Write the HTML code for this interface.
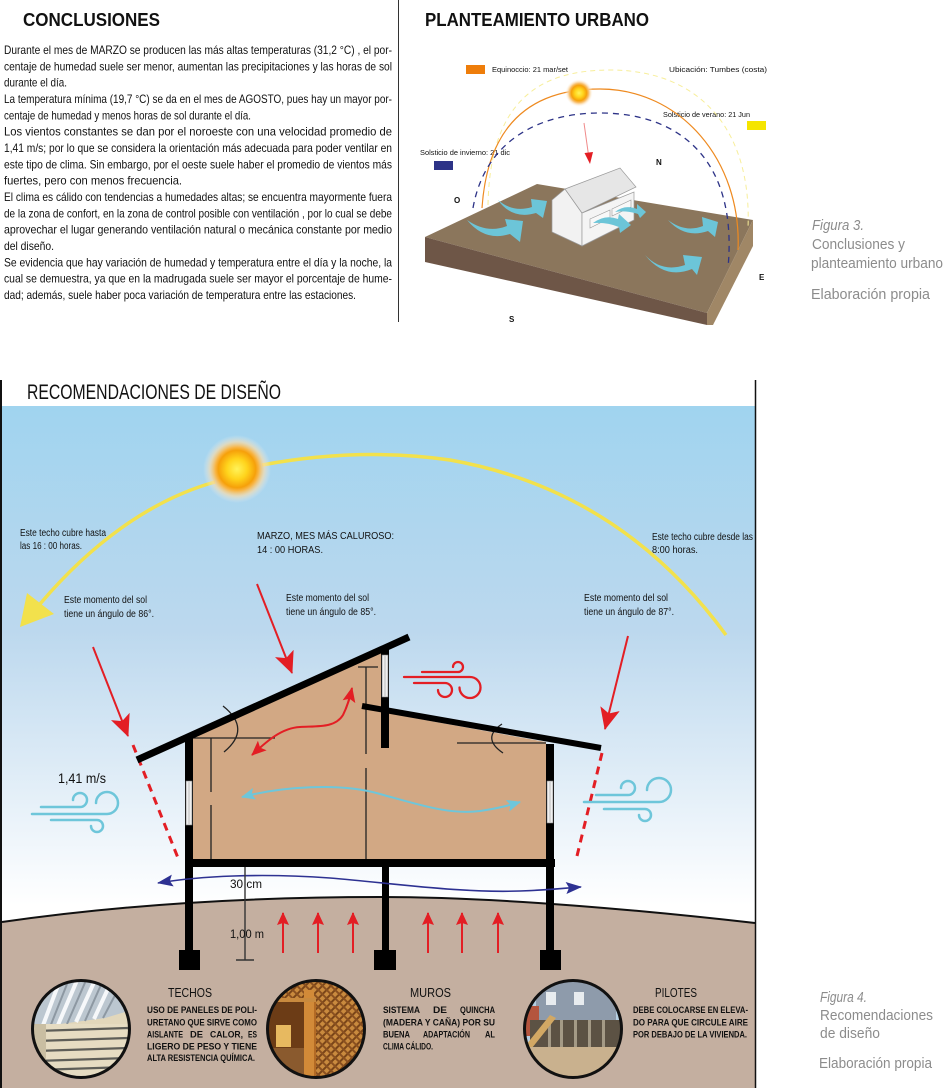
<!DOCTYPE html>
<html><head><meta charset="utf-8"><style>
html,body{margin:0;padding:0;background:#fff;}
svg{display:block;}
text{font-family:"Liberation Sans",sans-serif;}
</style></head><body>
<svg width="945" height="1088" viewBox="0 0 945 1088" xmlns="http://www.w3.org/2000/svg">
<defs>
 <linearGradient id="sky" x1="0" y1="406" x2="0" y2="905" gradientUnits="userSpaceOnUse">
  <stop offset="0" stop-color="#a0d4ef"/>
  <stop offset="0.45" stop-color="#bcd8ee"/>
  <stop offset="1" stop-color="#ffffff"/>
 </linearGradient>
 <radialGradient id="sun">
  <stop offset="0" stop-color="#fff35a"/>
  <stop offset="0.3" stop-color="#ffd41c"/>
  <stop offset="0.55" stop-color="#f6a00a"/>
  <stop offset="0.64" stop-color="#f8b545"/>
  <stop offset="0.8" stop-color="#f6dcae" stop-opacity="0.7"/>
  <stop offset="1" stop-color="#e8eef2" stop-opacity="0"/>
 </radialGradient>
 <radialGradient id="sun2">
  <stop offset="0" stop-color="#fff35a"/>
  <stop offset="0.3" stop-color="#ffd41c"/>
  <stop offset="0.55" stop-color="#f6a00a"/>
  <stop offset="0.7" stop-color="#f8c070"/>
  <stop offset="1" stop-color="#ffffff" stop-opacity="0"/>
 </radialGradient>
 <marker id="mRed" markerUnits="userSpaceOnUse" markerWidth="22" markerHeight="20" viewBox="0 0 22 20" refX="21" refY="10" orient="auto"><path d="M0,0 L22,10 L0,20 L5,10 Z" fill="#e31e24"/></marker>
 <marker id="mRedS" markerUnits="userSpaceOnUse" markerWidth="13" markerHeight="12" viewBox="0 0 13 12" refX="12" refY="6" orient="auto"><path d="M0,0 L13,6 L0,12 L2,6 Z" fill="#e31e24"/></marker>
 <marker id="mRedM" markerUnits="userSpaceOnUse" markerWidth="15" markerHeight="13" viewBox="0 0 15 13" refX="14" refY="6.5" orient="auto-start-reverse"><path d="M0,0 L15,6.5 L0,13 L3,6.5 Z" fill="#e31e24"/></marker>
 <marker id="mCyan" markerUnits="userSpaceOnUse" markerWidth="14" markerHeight="12" viewBox="0 0 14 12" refX="13" refY="6" orient="auto-start-reverse"><path d="M0,0 L14,6 L0,12 L3,6 Z" fill="#6ec6da"/></marker>
 <marker id="mNavy" markerUnits="userSpaceOnUse" markerWidth="16" markerHeight="12" viewBox="0 0 16 12" refX="15" refY="6" orient="auto-start-reverse"><path d="M0,0 L16,6 L0,12 L3,6 Z" fill="#2d3192"/></marker>
 <clipPath id="c1"><circle cx="81" cy="1029" r="49"/></clipPath>
 <clipPath id="c2"><circle cx="316" cy="1029" r="49"/></clipPath>
 <clipPath id="c3"><circle cx="573" cy="1029" r="49"/></clipPath>
 <pattern id="lat" patternUnits="userSpaceOnUse" width="6" height="6" patternTransform="rotate(45)">
  <rect width="6" height="6" fill="#c98a3e"/>
  <rect width="2" height="6" fill="#7a4518"/>
  <rect width="6" height="2" fill="#8a5020"/>
 </pattern>
</defs>

<!-- ============ TOP LEFT: CONCLUSIONES ============ -->
<text x="23" y="26" font-size="18" font-weight="bold" fill="#111" textLength="137" lengthAdjust="spacingAndGlyphs">CONCLUSIONES</text>
<g font-size="12" fill="#111">
 <text x="4" y="54" textLength="388" lengthAdjust="spacingAndGlyphs">Durante el mes de MARZO se producen las más altas temperaturas (31,2 °C) , el por-</text>
 <text x="4" y="70.3" textLength="388" lengthAdjust="spacingAndGlyphs">centaje de humedad suele ser menor, aumentan las precipitaciones y las horas de sol</text>
 <text x="4" y="86.7" textLength="63" lengthAdjust="spacingAndGlyphs">durante el día.</text>
 <text x="4" y="103" textLength="388" lengthAdjust="spacingAndGlyphs">La temperatura mínima (19,7 °C) se da en el mes de AGOSTO, pues hay un mayor por-</text>
 <text x="4" y="119.3" textLength="247" lengthAdjust="spacingAndGlyphs">centaje de humedad y menos horas de sol durante el día.</text>
 <text x="4" y="135.7" textLength="388" lengthAdjust="spacingAndGlyphs">Los vientos constantes se dan por el noroeste con una velocidad promedio de</text>
 <text x="4" y="152" textLength="388" lengthAdjust="spacingAndGlyphs">1,41 m/s; por lo que se considera la orientación más adecuada para poder ventilar en</text>
 <text x="4" y="168.3" textLength="388" lengthAdjust="spacingAndGlyphs">este tipo de clima. Sin embargo, por el oeste suele haber el promedio de vientos más</text>
 <text x="4" y="184.7" textLength="178" lengthAdjust="spacingAndGlyphs">fuertes, pero con menos frecuencia.</text>
 <text x="4" y="201" textLength="388" lengthAdjust="spacingAndGlyphs">El clima es cálido con tendencias a humedades altas; se encuentra mayormente fuera</text>
 <text x="4" y="217.3" textLength="388" lengthAdjust="spacingAndGlyphs">de la zona de confort, en la zona de control posible con ventilación , por lo cual se debe</text>
 <text x="4" y="233.7" textLength="388" lengthAdjust="spacingAndGlyphs">aprovechar el lugar generando ventilación natural o mecánica constante por medio</text>
 <text x="4" y="250" textLength="50" lengthAdjust="spacingAndGlyphs">del diseño.</text>
 <text x="4" y="266.3" textLength="388" lengthAdjust="spacingAndGlyphs">Se evidencia que hay variación de humedad y temperatura entre el día y la noche, la</text>
 <text x="4" y="282.7" textLength="388" lengthAdjust="spacingAndGlyphs">cual se demuestra, ya que en la madrugada suele ser mayor el porcentaje de hume-</text>
 <text x="4" y="299" textLength="352" lengthAdjust="spacingAndGlyphs">dad; además, suele haber poca variación de temperatura entre las estaciones.</text>
</g>
<line x1="398.5" y1="0" x2="398.5" y2="322" stroke="#333" stroke-width="1"/>

<!-- ============ TOP RIGHT: PLANTEAMIENTO URBANO ============ -->
<text x="425" y="26" font-size="18" font-weight="bold" fill="#111" textLength="224" lengthAdjust="spacingAndGlyphs">PLANTEAMIENTO URBANO</text>
<rect x="466" y="65" width="19" height="9" fill="#ee7d0a"/>
<rect x="747" y="121" width="19" height="9" fill="#f5e500"/>
<rect x="434" y="161" width="19" height="9" fill="#2d3387"/>
<g font-size="7.5" fill="#111">
 <text x="492" y="72" textLength="76" lengthAdjust="spacingAndGlyphs">Equinoccio: 21 mar/set</text>
 <text x="669" y="72" textLength="98" lengthAdjust="spacingAndGlyphs">Ubicación: Tumbes (costa)</text>
 <text x="663" y="117" textLength="87" lengthAdjust="spacingAndGlyphs">Solsticio de verano: 21 Jun</text>
 <text x="420" y="155" textLength="90" lengthAdjust="spacingAndGlyphs">Solsticio de invierno: 21 dic</text>
</g>
<g font-size="8" font-weight="bold" fill="#111">
 <text x="656" y="165">N</text>
 <text x="454" y="203">O</text>
 <text x="759" y="280">E</text>
 <text x="509" y="322">S</text>
</g>
<!-- ground block -->
<polygon points="425,237 537,184 753,220 707,313" fill="#8b765c"/>
<polygon points="425,237 707,313 707,325 425,262" fill="#6e5647"/>
<polygon points="707,313 753,220 753,246 713,325 707,325" fill="#a08766"/>
<!-- sun paths -->
<path d="M488,205 C490,100 540,70 610,70 C700,70 752,130 748,228" fill="none" stroke="#f7ee9a" stroke-width="1" stroke-dasharray="5,4"/>
<path d="M482,208 C488,120 535,89 600,89 C680,89 742,160 738,250" fill="none" stroke="#ee8a20" stroke-width="1.2"/>
<path d="M473,208 C485,140 540,113 600,113 C680,113 738,160 728,268" fill="none" stroke="#2d3387" stroke-width="1.3" stroke-dasharray="6,5"/>
<circle cx="579" cy="93" r="14" fill="url(#sun2)"/>
<line x1="584" y1="123" x2="588.5" y2="155" stroke="#f08a8a" stroke-width="1"/>
<polygon points="584.5,153 593,152 590,164" fill="#e31e24"/>
<!-- house -->
<polygon points="552,200 565,189 582,213 582,246 552,232" fill="#f2f2f2" stroke="#9a9a9a" stroke-width="0.7"/>
<polygon points="565,189 620,168 636,187 582,213" fill="#e6e6e6" stroke="#9a9a9a" stroke-width="0.7"/>
<polygon points="582,213 634,192 634,220 582,246" fill="#f4f4f4" stroke="#9a9a9a" stroke-width="0.7"/>
<polygon points="590,219 610,210 610,218 590,228" fill="#f8f8f8" stroke="#999" stroke-width="0.6"/>
<polygon points="612,209 631,200 631,207 612,216" fill="#f8f8f8" stroke="#999" stroke-width="0.6"/>
<!-- cyan wind arrows -->
<g fill="#6cc5d8">
 <path d="M467,220 Q487,234 507,226 L505,219 L523,221 L520,242 L510,234 Q485,242 467,220 Z"/>
 <path d="M498,200 Q513,213 532,207 L531,199 L547,201 L543,218 L536,213 Q512,220 498,200 Z"/>
 <path d="M593,223 Q605,214 618,219 L619,214 L631,225 L620,233 L619,227 Q607,222 593,223 Z"/>
 <path d="M615,212 Q625,204 637,209 L637,204 L646,212 L640,218 L638,214 Q626,210 615,212 Z"/>
 <path d="M668,220 Q685,233 703,226 L702,217 L718,222 L715,237 L708,231 Q685,239 668,220 Z"/>
 <path d="M645,255 Q662,273 685,265 L683,255 L702,257 L697,275 L692,269 Q665,280 645,255 Z"/>
</g>

<!-- captions -->
<g fill="#8c8c8c" font-size="15">
 <text x="812" y="230" font-style="italic" textLength="52" lengthAdjust="spacingAndGlyphs">Figura 3.</text>
 <text x="812" y="249" textLength="93" lengthAdjust="spacingAndGlyphs">Conclusiones y</text>
 <text x="811" y="268" textLength="132" lengthAdjust="spacingAndGlyphs">planteamiento urbano</text>
 <text x="811" y="299" textLength="119" lengthAdjust="spacingAndGlyphs">Elaboración propia</text>
 <text x="820" y="1002" font-style="italic" textLength="47" lengthAdjust="spacingAndGlyphs">Figura 4.</text>
 <text x="820" y="1020" textLength="113" lengthAdjust="spacingAndGlyphs">Recomendaciones</text>
 <text x="820" y="1038" textLength="60" lengthAdjust="spacingAndGlyphs">de diseño</text>
 <text x="819" y="1068" textLength="113" lengthAdjust="spacingAndGlyphs">Elaboración propia</text>
</g>

<!-- ============ BOTTOM: RECOMENDACIONES ============ -->
<text x="27" y="399" font-size="21" fill="#111" textLength="254" lengthAdjust="spacingAndGlyphs">RECOMENDACIONES DE DISEÑO</text>
<rect x="2" y="406" width="753" height="522" fill="url(#sky)"/>
<!-- ground -->
<path d="M2,922 C120,905 250,897 380,897 C500,897 640,910 755,923 L755,1088 L2,1088 Z" fill="#c4afa0"/>
<path d="M2,922 C120,905 250,897 380,897 C500,897 640,910 755,923" fill="none" stroke="#111" stroke-width="2"/>
<!-- panel borders -->
<line x1="1" y1="380" x2="1" y2="1088" stroke="#111" stroke-width="2"/>
<line x1="755.5" y1="380" x2="755.5" y2="1088" stroke="#111" stroke-width="1.5"/>

<!-- sun arc -->
<path d="M40,604 C90,545 150,500 215,482" fill="none" stroke="#f2e14c" stroke-width="3.5"/>
<path d="M262,465 Q360,447 450,460 Q620,490 726,635" fill="none" stroke="#f2e14c" stroke-width="3.5"/>
<polygon points="20,627 27,593 54,614" fill="#f2e14c"/>
<circle cx="237" cy="469" r="34" fill="url(#sun)"/>

<!-- sky labels -->
<g font-size="10" fill="#111">
 <text x="20" y="536" textLength="86" lengthAdjust="spacingAndGlyphs">Este techo cubre hasta</text>
 <text x="20" y="549" textLength="62" lengthAdjust="spacingAndGlyphs">las 16 : 00 horas.</text>
 <text x="257" y="539" textLength="137" lengthAdjust="spacingAndGlyphs">MARZO, MES MÁS CALUROSO:</text>
 <text x="257" y="553" textLength="66" lengthAdjust="spacingAndGlyphs">14 : 00 HORAS.</text>
 <text x="652" y="540" textLength="101" lengthAdjust="spacingAndGlyphs">Este techo cubre desde las</text>
 <text x="652" y="553" textLength="46" lengthAdjust="spacingAndGlyphs">8:00 horas.</text>
 <text x="64" y="603" textLength="83" lengthAdjust="spacingAndGlyphs">Este momento del sol</text>
 <text x="64" y="617" textLength="90" lengthAdjust="spacingAndGlyphs">tiene un ángulo de 86°.</text>
 <text x="286" y="601" textLength="83" lengthAdjust="spacingAndGlyphs">Este momento del sol</text>
 <text x="286" y="615" textLength="90" lengthAdjust="spacingAndGlyphs">tiene un ángulo de 85°.</text>
 <text x="584" y="601" textLength="84" lengthAdjust="spacingAndGlyphs">Este momento del sol</text>
 <text x="584" y="615" textLength="90" lengthAdjust="spacingAndGlyphs">tiene un ángulo de 87°.</text>
</g>

<!-- red sun rays -->
<line x1="93" y1="647" x2="128" y2="736" stroke="#e31e24" stroke-width="2" marker-end="url(#mRed)"/>
<line x1="257" y1="584" x2="292" y2="673" stroke="#e31e24" stroke-width="2" marker-end="url(#mRed)"/>
<line x1="628" y1="636" x2="605" y2="729" stroke="#e31e24" stroke-width="2" marker-end="url(#mRed)"/>
<line x1="133" y1="745" x2="178" y2="858" stroke="#e31e24" stroke-width="3" stroke-dasharray="8,6"/>
<line x1="602" y1="753" x2="577" y2="856" stroke="#e31e24" stroke-width="3" stroke-dasharray="8,6"/>

<!-- house interior -->
<polygon points="193,738 381,651 381,712 546,742 546,859 193,859" fill="#d2a884"/>
<g stroke="#222" stroke-width="1.3" fill="none">
 <line x1="193" y1="738" x2="275" y2="738"/>
 <line x1="211" y1="738" x2="211" y2="792"/>
 <line x1="211" y1="805" x2="211" y2="859"/>
 <path d="M223,706 Q252,729 224,752"/>
 <line x1="358" y1="667" x2="378" y2="667"/>
 <line x1="366" y1="667" x2="366" y2="754"/>
 <line x1="366" y1="768" x2="366" y2="859"/>
 <line x1="457" y1="743" x2="546" y2="743"/>
 <path d="M502,724 Q481,738 503,753"/>
</g>
<!-- roofs -->
<line x1="137" y1="760" x2="409" y2="637" stroke="#000" stroke-width="7"/>
<line x1="362" y1="706" x2="601" y2="748" stroke="#000" stroke-width="6"/>
<!-- walls / columns -->
<rect x="185" y="736" width="8" height="216" fill="#000"/>
<rect x="546" y="744" width="8" height="208" fill="#000"/>
<rect x="381" y="648" width="8" height="100" fill="#000"/>
<rect x="382" y="866" width="7" height="86" fill="#000"/>
<!-- windows -->
<g fill="#efefef" stroke="#7a7a7a" stroke-width="0.6">
 <rect x="186" y="781" width="6" height="44"/>
 <rect x="547" y="781" width="6" height="42"/>
 <rect x="382" y="655" width="6" height="42"/>
</g>
<g stroke="#9a9a9a" stroke-width="0.6">
 <line x1="189" y1="782" x2="189" y2="824"/>
 <line x1="550" y1="782" x2="550" y2="822"/>
 <line x1="385" y1="656" x2="385" y2="696"/>
</g>
<!-- floor -->
<rect x="185" y="859" width="370" height="8" fill="#000"/>
<!-- footings -->
<rect x="179" y="950" width="21" height="20" fill="#000"/>
<rect x="374" y="950" width="22" height="20" fill="#000"/>
<rect x="540" y="950" width="21" height="20" fill="#000"/>

<!-- interior flow arrows -->
<path d="M252,755 C264,744 280,728 300,727 C318,726 335,728 343,715 C348,705 350,697 352,688" fill="none" stroke="#e31e24" stroke-width="2" marker-start="url(#mRedM)" marker-end="url(#mRedM)"/>
<path d="M242,797 C280,787 340,782 380,794 C420,805 450,815 480,811 C500,808 510,805 520,802" fill="none" stroke="#6ec6da" stroke-width="2" marker-start="url(#mCyan)" marker-end="url(#mCyan)"/>
<path d="M158,883 C200,876 260,873 330,878 C400,884 460,893 520,891 C550,890 566,888 581,887" fill="none" stroke="#2d3192" stroke-width="1.6" marker-start="url(#mNavy)" marker-end="url(#mNavy)"/>

<!-- dimensions -->
<line x1="245" y1="867" x2="245" y2="960" stroke="#333" stroke-width="1.4"/>
<line x1="236" y1="960" x2="254" y2="960" stroke="#333" stroke-width="1.4"/>
<text x="230" y="888" font-size="12" fill="#111" textLength="32" lengthAdjust="spacingAndGlyphs">30 cm</text>
<text x="230" y="938" font-size="12" fill="#111" textLength="34" lengthAdjust="spacingAndGlyphs">1,00 m</text>

<!-- red up arrows -->
<g stroke="#e31e24" stroke-width="2">
 <line x1="283" y1="953" x2="283" y2="913" marker-end="url(#mRedS)"/>
 <line x1="318" y1="953" x2="318" y2="913" marker-end="url(#mRedS)"/>
 <line x1="353" y1="953" x2="353" y2="913" marker-end="url(#mRedS)"/>
 <line x1="428" y1="953" x2="428" y2="913" marker-end="url(#mRedS)"/>
 <line x1="462" y1="953" x2="462" y2="913" marker-end="url(#mRedS)"/>
 <line x1="498" y1="953" x2="498" y2="913" marker-end="url(#mRedS)"/>
</g>

<!-- wind icons -->
<text x="58" y="783" font-size="14" fill="#111" textLength="48" lengthAdjust="spacingAndGlyphs">1,41 m/s</text>
<g fill="none" stroke="#6ec6da" stroke-width="2.5" stroke-linecap="round">
 <path d="M41,807 H80 A7,7 0 1 0 73,800"/>
 <path d="M32,814 H107 A11,11 0 1 0 96,803"/>
 <path d="M51,820 H97 A6,6 0 1 1 91,826"/>
 <path d="M596,795 H628 A7,7 0 1 0 621,788"/>
 <path d="M584,802 H659 A12,12 0 1 0 647,790"/>
 <path d="M604,809 H645 A6,6 0 1 1 639,815"/>
</g>
<g fill="none" stroke="#e31e24" stroke-width="2.3" stroke-linecap="round">
 <path d="M422,672 H458 A5,5 0 1 0 453,667"/>
 <path d="M404,677 H470 A10.5,10.5 0 1 1 459.5,687.5"/>
 <path d="M414,683 H445 A7,7 0 1 1 438,690"/>
</g>

<!-- ===== photo circles ===== -->
<g clip-path="url(#c1)">
 <rect x="30" y="978" width="102" height="102" fill="#e2d7bb"/>
 <path d="M30,978 H132 V1010 L105,1018 L60,1024 L30,1030 Z" fill="#bcc7d0"/>
 <g stroke="#f6f8fa" stroke-width="4">
  <line x1="42" y1="1028" x2="60" y2="980"/>
  <line x1="58" y1="1025" x2="78" y2="978"/>
  <line x1="76" y1="1022" x2="96" y2="978"/>
  <line x1="94" y1="1019" x2="112" y2="980"/>
 </g>
 <g stroke="#8d98a2" stroke-width="2">
  <line x1="50" y1="1027" x2="69" y2="979"/>
  <line x1="67" y1="1024" x2="87" y2="978"/>
  <line x1="85" y1="1021" x2="104" y2="978"/>
  <line x1="103" y1="1018" x2="122" y2="982"/>
 </g>
 <rect x="30" y="1024" width="102" height="56" fill="#e6dcc2"/>
 <g stroke="#5e5e58" stroke-width="2.2">
  <line x1="36" y1="1031" x2="128" y2="1028"/>
  <line x1="36" y1="1041" x2="128" y2="1038"/>
  <line x1="36" y1="1051" x2="128" y2="1048"/>
  <line x1="36" y1="1061" x2="128" y2="1058"/>
  <line x1="36" y1="1070" x2="128" y2="1067"/>
 </g>
 <rect x="30" y="1024" width="16" height="56" fill="#c9bea2"/>
</g>
<circle cx="81" cy="1029" r="48.5" fill="none" stroke="#111" stroke-width="3"/>

<g clip-path="url(#c2)">
 <rect x="266" y="978" width="102" height="102" fill="#b36a24"/>
 <rect x="266" y="978" width="102" height="22" fill="url(#lat)"/>
 <rect x="266" y="998" width="40" height="82" fill="#6c3c16"/>
 <rect x="276" y="1025" width="15" height="22" fill="#e7b960"/>
 <rect x="268" y="1048" width="40" height="32" fill="#8a5a2e"/>
 <rect x="304" y="990" width="10" height="90" fill="#d28a38"/>
 <rect x="316" y="995" width="52" height="85" fill="url(#lat)"/>
 <rect x="270" y="998" width="46" height="4" fill="#c98a3e"/>
</g>
<circle cx="316" cy="1029" r="48.5" fill="none" stroke="#111" stroke-width="3"/>

<g clip-path="url(#c3)">
 <rect x="523" y="978" width="102" height="102" fill="#b6cfe2"/>
 <rect x="536" y="982" width="80" height="40" fill="#8e9bab"/>
 <rect x="546" y="992" width="10" height="13" fill="#e8ecef"/>
 <rect x="574" y="992" width="10" height="13" fill="#e8ecef"/>
 <rect x="523" y="1006" width="16" height="30" fill="#b4553e"/>
 <rect x="530" y="1020" width="92" height="30" fill="#5c5244"/>
 <g fill="#a49a86">
  <rect x="548" y="1020" width="3" height="30"/>
  <rect x="560" y="1020" width="3" height="30"/>
  <rect x="574" y="1020" width="3" height="30"/>
  <rect x="588" y="1020" width="3" height="30"/>
  <rect x="602" y="1020" width="3" height="30"/>
 </g>
 <path d="M526,1045 L550,1015 L556,1018 L532,1048 Z" fill="#d2a864"/>
 <rect x="523" y="1047" width="102" height="33" fill="#c9b18e"/>
</g>
<circle cx="573" cy="1029" r="48.5" fill="none" stroke="#111" stroke-width="3"/>

<!-- bottom labels -->
<g fill="#111">
 <text x="168" y="997" font-size="13" textLength="44" lengthAdjust="spacingAndGlyphs">TECHOS</text>
 <text x="410" y="997" font-size="13" textLength="41" lengthAdjust="spacingAndGlyphs">MUROS</text>
 <text x="655" y="997" font-size="13" textLength="42" lengthAdjust="spacingAndGlyphs">PILOTES</text>
</g>
<g fill="#111" font-size="9.5" font-weight="bold">
 <text x="147" y="1013" textLength="110" lengthAdjust="spacingAndGlyphs">USO DE PANELES DE POLI-</text>
 <text x="147" y="1025.5" textLength="110" lengthAdjust="spacingAndGlyphs">URETANO QUE SIRVE COMO</text>
 <text x="147" y="1037.5" textLength="36" lengthAdjust="spacingAndGlyphs">AISLANTE</text>
 <text x="190" y="1037.5" textLength="13" lengthAdjust="spacingAndGlyphs">DE</text>
 <text x="210" y="1037.5" textLength="33" lengthAdjust="spacingAndGlyphs">CALOR,</text>
 <text x="248" y="1037.5" textLength="9" lengthAdjust="spacingAndGlyphs">ES</text>
 <text x="147" y="1049.5" textLength="110" lengthAdjust="spacingAndGlyphs">LIGERO DE PESO Y TIENE</text>
 <text x="147" y="1061" textLength="108" lengthAdjust="spacingAndGlyphs">ALTA RESISTENCIA QUÍMICA.</text>

 <text x="383" y="1013" textLength="37" lengthAdjust="spacingAndGlyphs">SISTEMA</text>
 <text x="433" y="1013" textLength="14" lengthAdjust="spacingAndGlyphs">DE</text>
 <text x="460" y="1013" textLength="35" lengthAdjust="spacingAndGlyphs">QUINCHA</text>
 <text x="383" y="1025.5" textLength="112" lengthAdjust="spacingAndGlyphs">(MADERA Y CAÑA) POR SU</text>
 <text x="383" y="1037.5" textLength="27" lengthAdjust="spacingAndGlyphs">BUENA</text>
 <text x="423" y="1037.5" textLength="47" lengthAdjust="spacingAndGlyphs">ADAPTACIÓN</text>
 <text x="485" y="1037.5" textLength="10" lengthAdjust="spacingAndGlyphs">AL</text>
 <text x="383" y="1049.5" textLength="50" lengthAdjust="spacingAndGlyphs">CLIMA CÁLIDO.</text>

 <text x="633" y="1013" textLength="115" lengthAdjust="spacingAndGlyphs">DEBE COLOCARSE EN ELEVA-</text>
 <text x="633" y="1025.5" textLength="115" lengthAdjust="spacingAndGlyphs">DO PARA QUE CIRCULE AIRE</text>
 <text x="633" y="1037.5" textLength="114" lengthAdjust="spacingAndGlyphs">POR DEBAJO DE LA VIVIENDA.</text>
</g>
</svg>
</body></html>
